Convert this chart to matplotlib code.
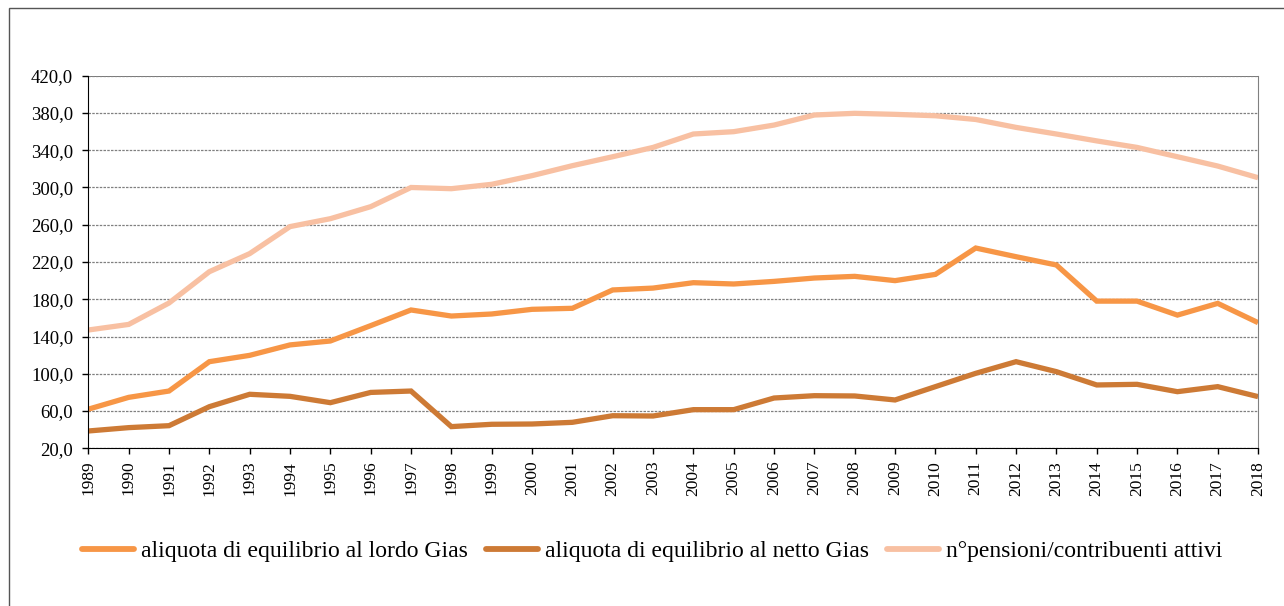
import numpy as np
import matplotlib.pyplot as plt
from matplotlib.patches import Rectangle
from matplotlib.ticker import FuncFormatter

plt.rcParams['font.family'] = ['Liberation Serif', 'DejaVu Serif']

years = list(range(1989, 2019))
lordo = [62, 74.7, 81.5, 113, 119.8, 131, 135.2, 151.7, 168.5, 162,
         164.2, 169.2, 170.3, 190, 192, 197.8, 196.4, 199.2, 202.8, 204.6,
         200, 206.7, 235, 225.7, 216.8, 178, 178, 163, 175.6, 154.9]
netto = [38.6, 42.2, 44.3, 64.7, 78, 75.8, 69, 80, 81.5, 43.3,
         45.8, 46.1, 47.9, 55, 54.7, 61.5, 61.5, 74, 76.5, 76.2,
         71.9, 86.2, 100.5, 113, 102.3, 88, 88.7, 80.8, 86.2, 75.5]
pens_contr = [147, 153, 176, 209.6, 229, 258, 266.5, 279.4, 300, 298.7,
              303.4, 312.7, 323.4, 333, 343, 357.4, 359.9, 367, 377.8, 379.6,
              378.5, 377, 373, 364.5, 357.4, 350, 343, 333, 323, 310.5]

labels = ['aliquota di equilibrio al lordo Gias',
          'aliquota di equilibrio al netto Gias',
          'n°pensioni/contribuenti attivi']
colors = ['#F79646', '#CD7A35', '#F8C0A2']

fig = plt.figure(figsize=(12.84, 6.06), dpi=100)
ax = fig.add_axes([0.0688, 0.2602, 0.9110, 0.6149])

# outer frame of the chart object
fig.patches.append(Rectangle((9 / 1284, -0.1), 1.2, 1 - 8 / 606 + 0.1,
                             transform=fig.transFigure, fill=False,
                             edgecolor='#555555', linewidth=1.0))

for vals, lab, c in zip([lordo, netto, pens_contr], labels, colors):
    ax.plot(years, vals, color=c, linewidth=3.8, label=lab,
            solid_capstyle='butt', solid_joinstyle='miter')

ax.set_xlim(1989, 2018)
ax.set_ylim(20, 420)
ax.set_yticks(np.arange(20, 421, 40))
ax.set_xticks(years)
ax.set_xticklabels([str(y) for y in years], rotation=90)
ax.yaxis.set_major_formatter(FuncFormatter(lambda v, p: ('%.1f' % v).replace('.', ',')))
ax.tick_params(axis='both', direction='out', length=4, width=1, color='black')
ax.tick_params(axis='x', labelsize=12.5, pad=5)
ax.tick_params(axis='y', labelsize=13.5, pad=7)

ax.grid(axis='y', color='#808080', linestyle=(0, (2, 1)), linewidth=0.9)
ax.set_axisbelow(True)
ax.spines['top'].set_visible(False)
ax.spines['right'].set_color('#808080')
ax.spines['left'].set_color('black')
ax.spines['bottom'].set_color('black')
ax.axhline(420, color='#606060', linewidth=1.2, zorder=0)

leg = fig.legend(loc='center', bbox_to_anchor=(0.508, 1 - 551 / 606), ncol=3,
                 frameon=False, fontsize=17, handlelength=2.2, handletextpad=0.3,
                 columnspacing=0.75)
for h in leg.get_lines():
    h.set_solid_capstyle('round')
    h.set_linewidth(4.2)

fig.savefig('out.png', dpi=100)
